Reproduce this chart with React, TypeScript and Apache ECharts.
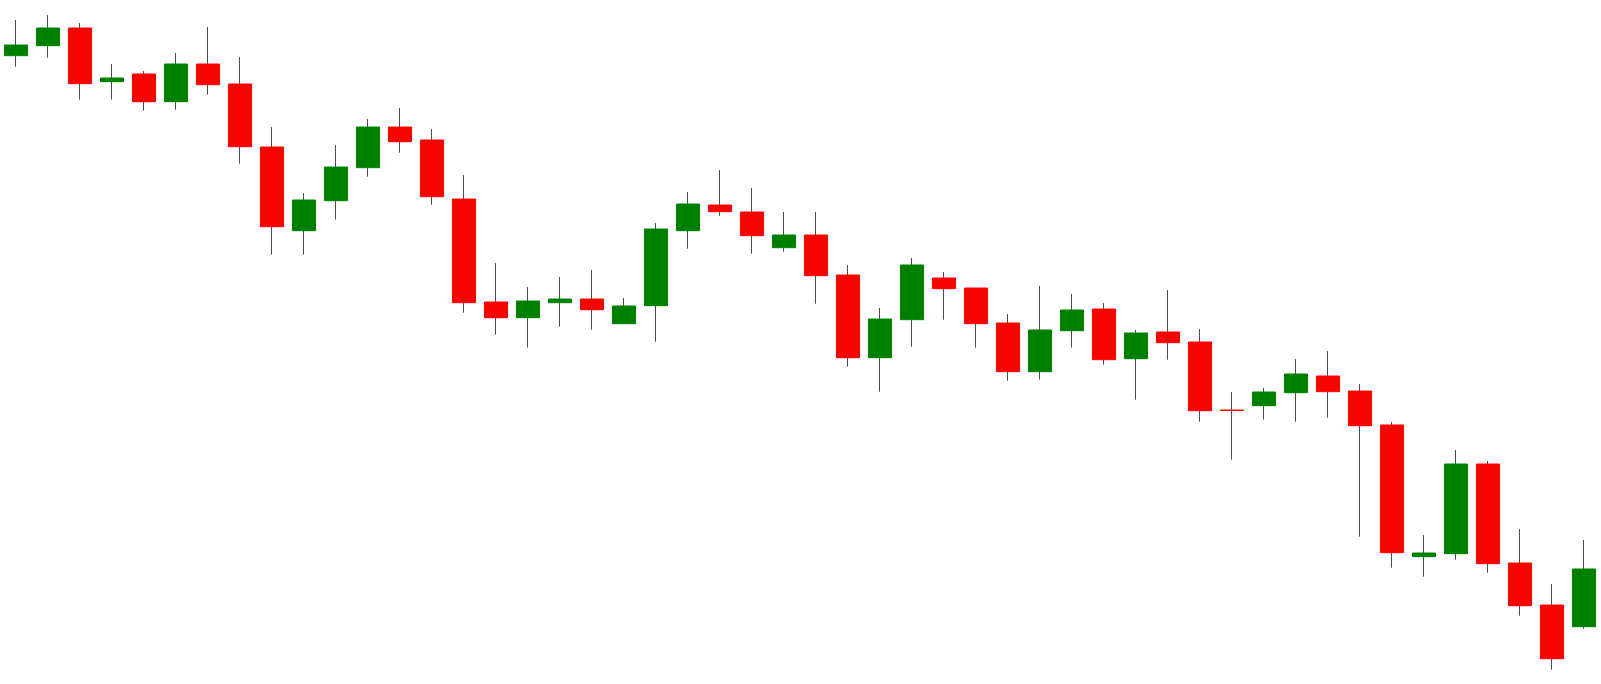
import React, { useEffect, useRef } from "react";
import * as echarts from "echarts";

const categories: string[] = Array.from({ length: 50 }, (_, i) => `D${i + 1}`);

// [open, close, low, high]
const opens: number[] = [
  644.3, 654.3, 672, 618.3, 626, 598.3, 636, 616, 553, 469.3,
  499.3, 532.3, 573, 560, 501, 398, 382.3, 397.3, 401, 376.3,
  394.3, 469.3, 495, 488, 452.3, 465, 425, 342.3, 380.3, 422,
  412, 377, 328.3, 369.3, 391, 341.3, 368, 358, 290, 294.3,
  307.3, 324, 309, 275, 143.3, 146.3, 236, 137, 95, 73.3,
];
const closes: number[] = [
  655, 672, 616.3, 622, 598.3, 636, 615.3, 553.3, 473.3, 500,
  533, 573, 558.3, 503.3, 397.3, 382.3, 399, 401, 390.3, 394,
  471, 496, 488.3, 464.3, 465, 424.3, 342.3, 381, 435, 411.3,
  376.3, 328.3, 370, 390, 340.3, 367, 357.3, 289.3, 289.5, 308,
  326, 308.3, 274.3, 147.3, 147, 236, 136.3, 94.3, 41.3, 131,
];
const lows: number[] = [
  633.3, 642.3, 600.3, 600.3, 589.3, 590.3, 605.3, 536.3, 445.3, 445.3,
  480.3, 523.3, 547.3, 495.3, 387.3, 365.3, 352.3, 373.3, 370.3, 376.3,
  358.3, 451.3, 484.3, 446.3, 448.3, 396.3, 333.3, 308.3, 353.3, 380.3,
  352.3, 319.3, 320.3, 352.3, 335.3, 300.3, 340.3, 278.3, 240.3, 280.3,
  278.3, 282.3, 163.3, 132.3, 123.3, 140.3, 127.3, 84.3, 30.3, 71.3,
];
const highs: number[] = [
  680, 685, 677, 636, 629, 647, 673, 643, 573, 507,
  555, 581, 592, 571, 525, 437, 413, 423, 430, 402,
  477, 508, 530, 512, 488, 488, 435, 392, 442, 428,
  412, 386, 414, 406, 397, 370, 410, 371, 308, 312,
  341, 349, 316, 278, 165, 250, 239, 171, 116, 160,
];

export default function App() {
  const ref = useRef<HTMLDivElement>(null);
  useEffect(() => {
    if (!ref.current) return;
    const chart = echarts.init(ref.current, undefined, { renderer: "svg" });
    const data = opens.map((o, i) => [o, closes[i], lows[i], highs[i]]);
    chart.setOption({
      animation: false,
      backgroundColor: "#ffffff",
      grid: { left: 0, right: 1, top: 0, bottom: 0 },
      xAxis: {
        type: "category",
        data: categories,
        show: false,
        boundaryGap: true,
      },
      yAxis: {
        type: "value",
        min: 16,
        max: 700,
        show: false,
        splitLine: { show: false },
      },
      series: [
        {
          type: "candlestick",
          data,
          barWidth: 24,
          itemStyle: {
            color: "#008000",
            color0: "#ff0000",
            borderColor: "#008000",
            borderColor0: "#ff0000",
            borderWidth: 1,
            borderJoin: "miter",
            borderCap: "butt",
          },
        },
      ],
    });
    return () => chart.dispose();
  }, []);
  return (
    <div
      ref={ref}
      style={{ position: "fixed", left: 0, top: 0, width: "1601px", height: "684px" }}
    />
  );
}
